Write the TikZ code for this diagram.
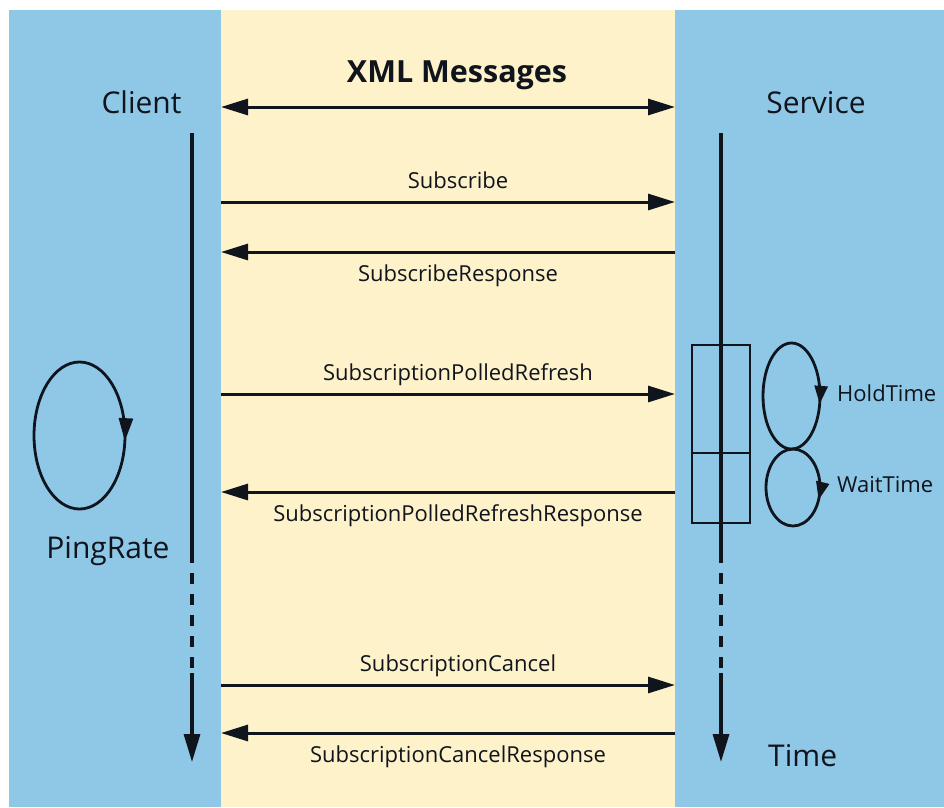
\documentclass[tikz,border=0pt]{standalone}
\usepackage{fontspec}
\setmainfont{Open Sans}
\usetikzlibrary{arrows.meta,decorations.markings}

\definecolor{laneblue}{RGB}{143,200,230}
\definecolor{wireyellow}{RGB}{254,242,202}
\definecolor{ink}{RGB}{16,20,28}

\begin{document}
\begin{tikzpicture}[x=1pt,y=-1pt,
  bigtxt/.style={font=\fontsize{30}{36}\selectfont, text=ink, inner sep=0pt, anchor=base},
  msgtxt/.style={font=\fontsize{22}{26}\selectfont, text=ink, inner sep=0pt, anchor=base},
  msgarrow/.style={draw=ink, line width=3pt, -{Triangle[length=27pt,width=16pt]}},
  lifeline/.style={draw=ink, line width=3.2pt},
  lifegap/.style={draw=ink, line width=3.2pt, dash pattern=on 11pt off 10pt, dash phase=11pt},
  lifeend/.style={draw=ink, line width=3.2pt, -{Triangle[length=28pt,width=16pt]}},
  timebox/.style={draw=ink, line width=2.8pt, inner sep=0pt, minimum width=58pt},
  cycle/.style={draw=ink, line width=2.8pt, postaction={decorate}},
]
\useasboundingbox (0,0) rectangle (944,807);

% lanes
\fill[laneblue] (9,10) rectangle (944,807);
\fill[wireyellow] (221,10) rectangle (675,807);

% headings
\node[bigtxt] (client) at (141.5,113) {Client};
\node[bigtxt] (service) at (816,113) {Service};
\node[bigtxt, font=\fontsize{30.5}{36}\selectfont\bfseries] (xml) at (457,82) {XML Messages};

% wire between the two parties
\coordinate (wireL) at (221,107);
\coordinate (wireR) at (675,107);
\draw[draw=ink, line width=3pt, {Triangle[length=27pt,width=16pt]}-{Triangle[length=27pt,width=16pt]}] (wireL) -- (wireR);

% client lifeline
\coordinate (cliTop) at (192,133);
\coordinate (cliGapA) at (192,563);
\coordinate (cliGapB) at (192,673);
\coordinate (cliEnd) at (192,762);
\draw[lifeline] (cliTop) -- (cliGapA);
\draw[lifegap] (cliGapA) -- (cliGapB);
\draw[lifeend] (cliGapB) -- (cliEnd);

% service lifeline
\coordinate (srvTop) at (721,133);
\coordinate (srvGapA) at (721,563);
\coordinate (srvGapB) at (721,673);
\coordinate (srvEnd) at (721,762);
\draw[lifeline] (srvTop) -- (srvGapA);
\draw[lifegap] (srvGapA) -- (srvGapB);
\draw[lifeend] (srvGapB) -- (srvEnd);

% hold / wait boxes on the service lifeline
\node[timebox, minimum height=108pt] (holdbox) at (721,399) {};
\node[timebox, minimum height=70pt] (waitbox) at (721,488) {};

% message ends on the lane borders
\coordinate (subL) at (221,202);   \coordinate (subR) at (675,202);
\coordinate (subrL) at (221,252);  \coordinate (subrR) at (675,252);
\coordinate (pollL) at (221,394);  \coordinate (pollR) at (675,394);
\coordinate (pollrL) at (221,492); \coordinate (pollrR) at (675,492);
\coordinate (canL) at (221,685);   \coordinate (canR) at (675,685);
\coordinate (canrL) at (221,733);  \coordinate (canrR) at (675,733);

\draw[msgarrow] (subL) -- (subR);
\draw[msgarrow] (subrR) -- (subrL);
\draw[msgarrow] (pollL) -- (pollR);
\draw[msgarrow] (pollrR) -- (pollrL);
\draw[msgarrow] (canL) -- (canR);
\draw[msgarrow] (canrR) -- (canrL);

\node[msgtxt] (tSub) at (458,188) {Subscribe};
\node[msgtxt] (tSubr) at (458,281) {SubscribeResponse};
\node[msgtxt] (tPoll) at (458,380) {SubscriptionPolledRefresh};
\node[msgtxt] (tPollr) at (458,521) {SubscriptionPolledRefreshResponse};
\node[msgtxt] (tCan) at (458,671) {SubscriptionCancel};
\node[msgtxt] (tCanr) at (458,762) {SubscriptionCancelResponse};

% timing cycles
\draw[cycle, decoration={markings, mark=at position 0.265 with {\arrow{Triangle[length=23pt,width=14pt]}}}]
  (79.5,362) arc[start angle=-90, end angle=270, x radius=45.5, y radius=73.5];
\draw[cycle, decoration={markings, mark=at position 0.28 with {\arrow{Triangle[length=18pt,width=13pt]}}}]
  (791.5,343) arc[start angle=-90, end angle=270, x radius=28.5, y radius=53];
\draw[cycle, decoration={markings, mark=at position 0.31 with {\arrow{Triangle[length=18pt,width=13pt]}}}]
  (793,449) arc[start angle=-90, end angle=270, x radius=27, y radius=38.5];

\node[bigtxt] (ping) at (108,558) {PingRate};
\node[msgtxt, anchor=base west] (hold) at (837,401) {HoldTime};
\node[msgtxt, anchor=base west] (wait) at (837,492) {WaitTime};
\node[bigtxt, anchor=base west] (time) at (768,766) {Time};
\end{tikzpicture}
\end{document}
